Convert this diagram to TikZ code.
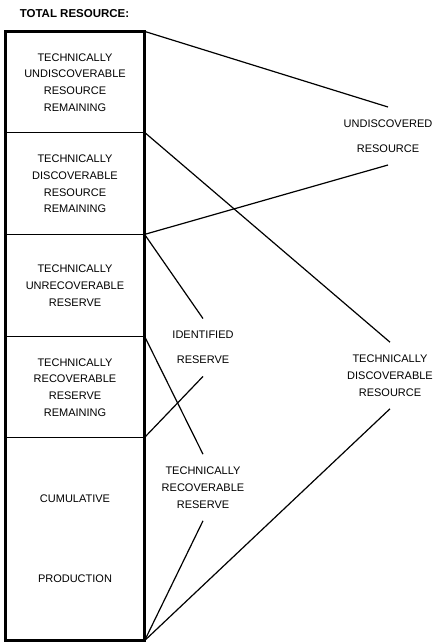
\documentclass[tikz,border=0pt]{standalone}
\usepackage{fontspec}
\setmainfont{Liberation Sans}
\begin{document}
\begin{tikzpicture}[x=1pt,y=-1pt,
  every node/.style={font=\fontsize{11}{16.8}\selectfont, align=center},
  sect/.style={minimum width=138pt, inner sep=0pt},
  lbl/.style={inner xsep=2pt, inner ysep=12pt},
  divider/.style={line width=1pt},
  frame/.style={line width=2.6pt},
  line width=1.2pt]
  \useasboundingbox (0,0) rectangle (434,642);

  % Title
  \node[font=\fontsize{11.5}{14}\selectfont\bfseries] (title) at (74.5,14) {TOTAL RESOURCE:};

  % Sections of the total resource column
  \node[sect, minimum height=101pt] (s1) at (75,82.5) {TECHNICALLY\\UNDISCOVERABLE\\RESOURCE\\REMAINING};
  \node[sect, minimum height=102pt] (s2) at (75,184) {TECHNICALLY\\DISCOVERABLE\\RESOURCE\\REMAINING};
  \node[sect, minimum height=102pt] (s3) at (75,286) {TECHNICALLY\\UNRECOVERABLE\\RESERVE};
  \node[sect, minimum height=101pt] (s4) at (75,387.5) {TECHNICALLY\\RECOVERABLE\\RESERVE\\REMAINING};
  \node[sect, minimum height=202pt] (s5) at (75,539) {CUMULATIVE\\[63.2pt]PRODUCTION};

  % Dividers and frame
  \draw[divider] (s2.north west) -- (s2.north east);
  \draw[divider] (s3.north west) -- (s3.north east);
  \draw[divider] (s4.north west) -- (s4.north east);
  \draw[divider] (s5.north west) -- (s5.north east);
  \draw[frame] (s1.north west) rectangle (s5.south east);

  % Groupings
  \node[lbl] (ur) at (388,136) {UNDISCOVERED\\[8.2pt]RESOURCE};
  \node[lbl] (tdr) at (390,375.5) {TECHNICALLY\\DISCOVERABLE\\RESOURCE};
  \node[lbl] (ir) at (203,347.5) {IDENTIFIED\\[8.2pt]RESERVE};
  \node[lbl] (trr) at (203,487.5) {TECHNICALLY\\RECOVERABLE\\RESERVE};

  % Edges to undiscovered resource
  \draw (s1.north east) -- (ur.north);
  \draw (s3.north east) -- (ur.south);

  % Edges to technically discoverable resource
  \draw (s2.north east) -- (tdr.north);
  \draw (s5.south east) -- (tdr.south);

  % Edges to identified reserve
  \draw (s3.north east) -- (ir.north);
  \draw (s5.north east) -- (ir.south);

  % Edges to technically recoverable reserve
  \draw (s4.north east) -- (trr.north);
  \draw (s5.south east) -- (trr.south);

\end{tikzpicture}
\end{document}
